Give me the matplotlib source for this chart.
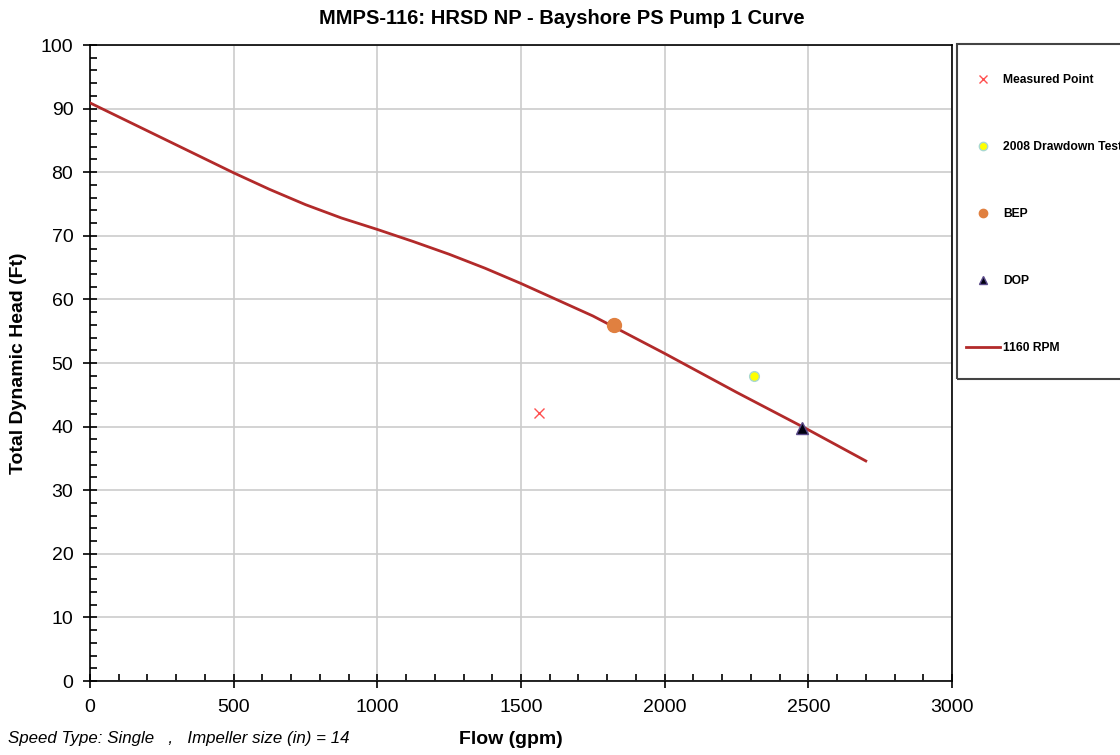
import matplotlib.pyplot as plt
from matplotlib.lines import Line2D
from matplotlib.patches import Rectangle
from matplotlib.ticker import MultipleLocator

plt.rcParams['font.family'] = ['Liberation Sans', 'DejaVu Sans']

# pump curve at 1160 RPM
curve_flow = [0, 250, 500, 625, 750, 875, 1000, 1125, 1250, 1375, 1500, 1750, 2000, 2250, 2500, 2700]
curve_head = [90.9, 85.4, 79.9, 77.3, 74.9, 72.8, 71.0, 69.1, 67.1, 64.9, 62.5, 57.4, 51.5, 45.4, 39.5, 34.6]

# single points
measured = (1563, 42.1)
drawdown = (2311, 48)
bep = (1824, 56)
dop = (2478, 39.8)

W, H = 1120, 755
fig = plt.figure(figsize=(W / 100, H / 100), dpi=100)
ax = fig.add_axes([90 / W, 1 - 681 / H, (952 - 90) / W, (681 - 45) / H])

ax.plot(curve_flow, curve_head, color='#B22A2A', lw=2, zorder=3)
ax.plot(*measured, marker='x', color='#FF5050', ms=7, mew=1, ls='none', zorder=4)
ax.plot(*drawdown, marker='o', color='#FFFF00', mec='#A8D8D0', ms=7, mew=1, ls='none', zorder=4)
ax.plot(*bep, marker='o', color='#E08040', mec='#E08040', ms=10, ls='none', zorder=4)
ax.plot(*dop, marker='^', color='#000010', mec='#5A4A8A', ms=9, mew=1, ls='none', zorder=4)

ax.set_xlim(0, 3000)
ax.set_ylim(0, 100)
ax.xaxis.set_major_locator(MultipleLocator(500))
ax.xaxis.set_minor_locator(MultipleLocator(100))
ax.yaxis.set_major_locator(MultipleLocator(10))
ax.yaxis.set_minor_locator(MultipleLocator(2))
ax.tick_params(which='major', direction='inout', length=10, width=1.2, labelsize=14)
ax.tick_params(axis='x', which='major', pad=8)
ax.tick_params(axis='y', which='major', pad=7)
ax.tick_params(which='minor', direction='in', length=5, width=1.2)
ax.grid(True, which='major', color='#CCCCCC', lw=1.2)
ax.set_axisbelow(True)
for s in ax.spines.values():
    s.set_linewidth(1.2)

ax.set_ylabel('Total Dynamic Head (Ft)', fontsize=14, fontweight='bold', labelpad=10)
fig.text(511 / W, 1 - 740 / H, 'Flow (gpm)', fontsize=14, fontweight='bold', ha='center', va='center')
fig.text(562 / W, 1 - 18 / H, 'MMPS-116: HRSD NP - Bayshore PS Pump 1 Curve',
         fontsize=14.5, fontweight='bold', ha='center', va='center')
fig.text(8 / W, 1 - 738 / H, 'Speed Type: Single   ,   Impeller size (in) = 14',
         fontsize=12.2, style='italic', ha='left', va='center')

# legend box, runs off the right edge like the original
fig.patches.append(Rectangle((957 / W, 1 - 379 / H), 180 / W, (379 - 44) / H,
                             transform=fig.transFigure, fill=False, ec='#444444', lw=1.5))
handles = [
    Line2D([], [], marker='x', color='#FF5050', ms=6, mew=1, ls='none'),
    Line2D([], [], marker='o', color='#FFFF00', mec='#A8D8D0', ms=6, ls='none'),
    Line2D([], [], marker='o', color='#E08040', mec='#E08040', ms=6, ls='none'),
    Line2D([], [], marker='^', color='#000010', mec='#5A4A8A', ms=6, ls='none'),
    Line2D([], [], color='#B22A2A', lw=2),
]
labels = ['Measured Point', '2008 Drawdown Test', 'BEP', 'DOP', '1160 RPM']
fig.legend(handles, labels, loc='upper left', bbox_to_anchor=(966 / W, 1 - 74 / H),
           frameon=False, prop={'size': 8.7, 'weight': 'bold'}, labelspacing=4.55,
           handlelength=2.8, handletextpad=0.25, borderaxespad=0, borderpad=0)

fig.savefig('out.png', dpi=100)
